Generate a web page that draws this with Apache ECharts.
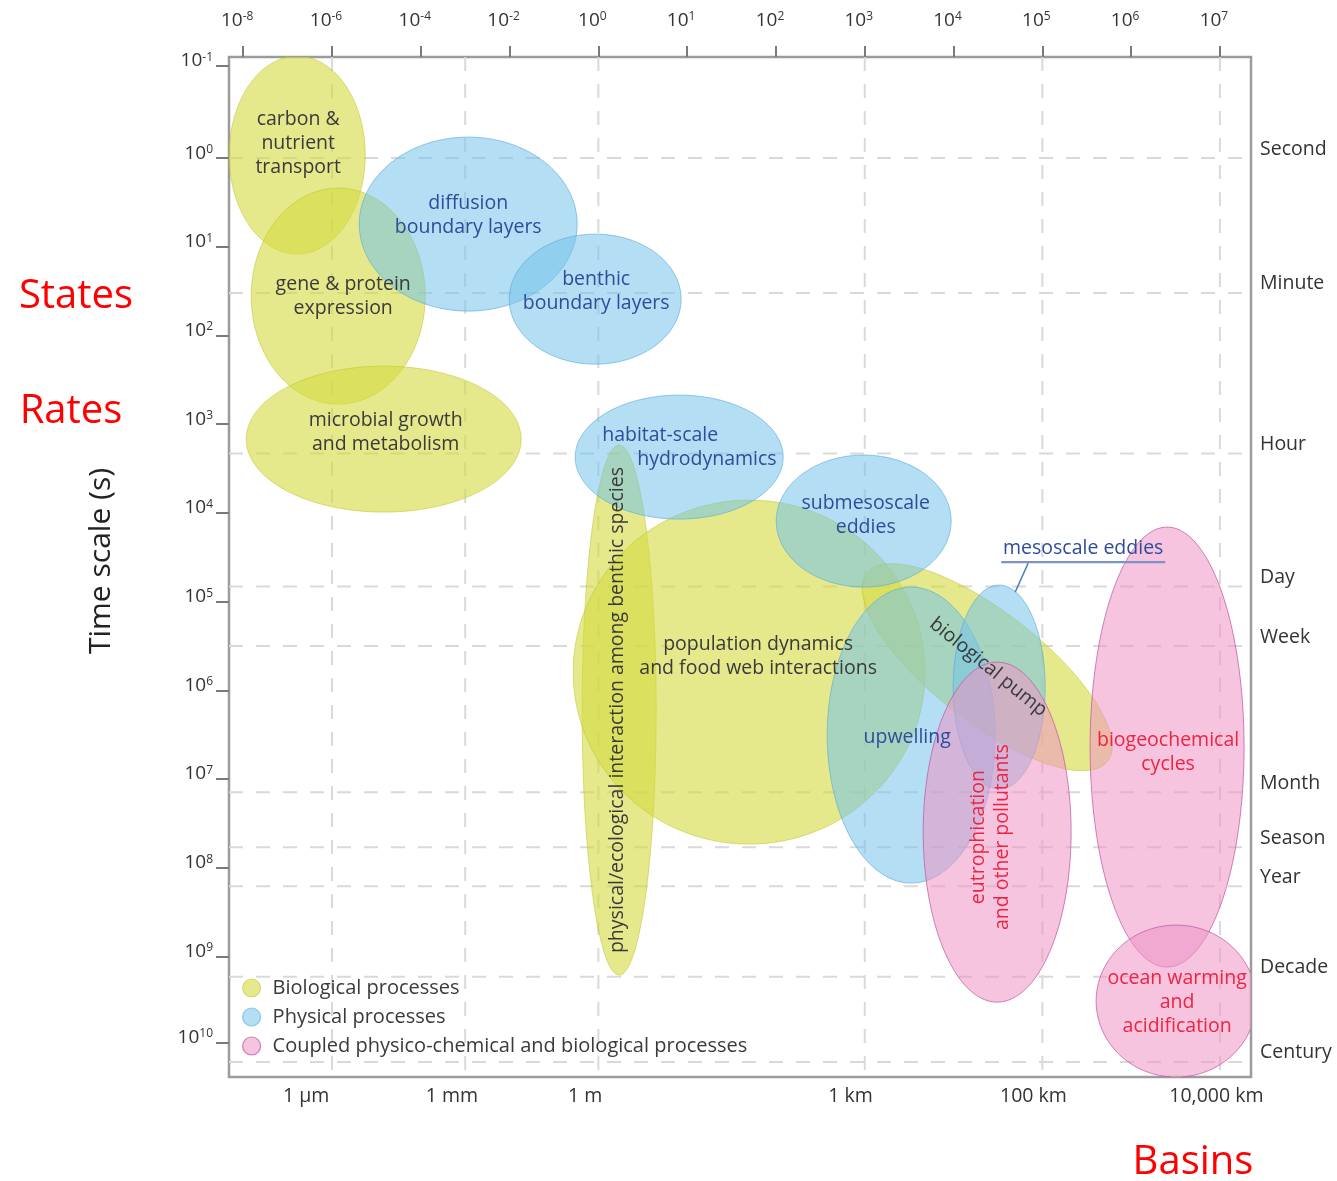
<!DOCTYPE html>
<html>
<head>
<meta charset="utf-8">
<script src="https://cdn.jsdelivr.net/npm/echarts@6/dist/echarts.min.js"></script>
<style>
  html, body { margin: 0; padding: 0; background: #ffffff; }
  #chart { width: 1337px; height: 1181px; }
</style>
</head>
<body>
<div id="chart"></div>
<script>
// ---- Length axis (metres, decade positions along the top) ----
const lengthTickPos = [0, 1, 2, 3, 4, 5, 6, 7, 8, 9, 10, 11];
const lengthTickExp = ['-8', '-6', '-4', '-2', '0', '1', '2', '3', '4', '5', '6', '7'];
const lengthUnitLabels = ['1 µm', '1 mm', '1 m', '1 km', '100 km', '10,000 km'];
const lengthUnitPos = [0.71, 2.35, 3.85, 6.84, 8.9, 10.96];
const lengthGridPos = [1, 2.5, 4, 7, 9, 11];

// ---- Time axis (log10 of seconds) ----
const timeTickPos = [-1.04, 0, 1, 2, 3, 4, 5, 6, 7, 8, 9, 9.97];
const timeTickExp = ['-1', '0', '1', '2', '3', '4', '5', '6', '7', '8', '9', '10'];
const timeUnitLabels = ['Second', 'Minute', 'Hour', 'Day', 'Week', 'Month', 'Season', 'Year', 'Decade', 'Century'];
const timeUnitPos = [0, 1.52, 3.33, 4.83, 5.5, 7.15, 7.77, 8.21, 9.23, 10.19];

// ---- Process groups ----
const groupNames = [
  'Biological processes',
  'Physical processes',
  'Coupled physico-chemical and biological processes'
];

// ---- Processes: centre and half-extent on each axis, tilt in degrees ----
const processNames = [
  'carbon &\nnutrient\ntransport',
  'gene & protein\nexpression',
  'microbial growth\nand metabolism',
  'physical/ecological interaction among benthic species',
  'population dynamics\nand food web interactions',
  'biological pump',
  'diffusion\nboundary layers',
  'benthic\nboundary layers',
  'habitat-scale hydrodynamics',
  'submesoscale\neddies',
  'upwelling',
  'mesoscale eddies',
  'eutrophication\nand other pollutants',
  'biogeochemical\ncycles',
  'ocean warming\nand\nacidification'
];
const processGroup = [0, 0, 0, 0, 0, 0, 1, 1, 1, 1, 1, 1, 2, 2, 2];
const lengthCentre = [0.608, 1.070, 1.582, 4.234, 5.698, 8.380, 2.534, 3.964, 4.910, 6.988, 7.523, 8.514, 8.491, 10.405, 10.507];
const lengthHalf   = [0.766, 0.980, 1.548, 0.417, 1.982, 1.720, 1.227, 0.968, 1.171, 0.985, 0.946, 0.518, 0.833, 0.867, 0.901];
const timeCentre   = [-0.034, 1.556, 3.168, 6.223, 5.795, 5.740, 0.744, 1.590, 3.371, 4.092, 6.505, 5.964, 7.599, 6.640, 9.504];
const timeHalf     = [1.116, 1.218, 0.823, 2.988, 1.939, 0.620, 0.981, 0.733, 0.699, 0.744, 1.669, 1.150, 1.917, 2.480, 0.857];
const processTilt  = [0, 0, 0, 0, 0, 38, 0, 0, 0, 0, 0, 0, 0, 0, 0];

// ---- Styling ----
const FONT = '"Open Sans", "DejaVu Sans", sans-serif';
const LABEL_SIZE = 19.5;
const groupFill   = ['rgba(212,218,63,0.6)', 'rgba(117,195,233,0.55)', 'rgba(239,148,197,0.55)'];
const groupStroke = ['rgba(190,198,40,0.55)', 'rgba(85,168,218,0.6)', 'rgba(190,90,165,0.75)'];
const groupText   = ['#3a3a3a', '#2f4c9c', '#ec2442'];

// label placement relative to each ellipse centre (pixels), rotation in degrees
const labelLayout = {
  0: { dx: 1, dy: -12 },
  1: { dx: 5, dy: 0 },
  2: { dx: 2, dy: -7 },
  3: { dx: -2, dy: 0, rot: 90 },
  4: { dx: 9, dy: -16 },
  5: { dx: 1, dy: 0, rot: -39 },
  6: { dx: 0, dy: -9 },
  7: { dx: 1, dy: -8 },
  8: { dx: -77, dy: -10, stagger: 35 },
  9: { dx: 2, dy: -6 },
  10: { dx: -4, dy: 2 },
  11: { dx: 84, dy: -139, callout: true },
  12: { dx: -7, dy: 5, rot: 90 },
  13: { dx: 1, dy: 5 },
  14: { dx: 1, dy: 1 }
};

// Sutherland-Hodgman clipping of a polygon against the plot rectangle
function clipPolygon(pts, r) {
  const tests = [
    [p => p[0] >= r.x0, (a, b) => lerpAt(a, b, 0, r.x0)],
    [p => p[0] <= r.x1, (a, b) => lerpAt(a, b, 0, r.x1)],
    [p => p[1] >= r.y0, (a, b) => lerpAt(a, b, 1, r.y0)],
    [p => p[1] <= r.y1, (a, b) => lerpAt(a, b, 1, r.y1)]
  ];
  let out = pts;
  tests.forEach(([inside, cut]) => {
    const src = out; out = [];
    for (let k = 0; k < src.length; k++) {
      const cur = src[k], prev = src[(k + src.length - 1) % src.length];
      if (inside(cur)) {
        if (!inside(prev)) out.push(cut(prev, cur));
        out.push(cur);
      } else if (inside(prev)) {
        out.push(cut(prev, cur));
      }
    }
  });
  return out;
}
function lerpAt(a, b, axis, v) {
  const t = (v - a[axis]) / (b[axis] - a[axis]);
  return [a[0] + (b[0] - a[0]) * t, a[1] + (b[1] - a[1]) * t];
}

function ellipseItem(params, api) {
  const cs = params.coordSys;
  const rect = { x0: cs.x, y0: cs.y, x1: cs.x + cs.width, y1: cs.y + cs.height };
  const c = api.coord([api.value(0), api.value(1)]);
  const rx = Math.abs(api.size([api.value(2), 0])[0]);
  const ry = Math.abs(api.size([0, api.value(3)])[1]);
  const t = api.value(4) * Math.PI / 180;
  const g = api.value(5);
  const pts = [];
  const n = 180;
  for (let k = 0; k < n; k++) {
    const a = k / n * 2 * Math.PI;
    const ex = rx * Math.cos(a), ey = ry * Math.sin(a);
    pts.push([c[0] + ex * Math.cos(t) - ey * Math.sin(t), c[1] + ex * Math.sin(t) + ey * Math.cos(t)]);
  }
  const inRect = p => p[0] >= rect.x0 && p[0] <= rect.x1 && p[1] >= rect.y0 && p[1] <= rect.y1;
  const children = [{
    type: 'polygon',
    shape: { points: clipPolygon(pts, rect) },
    style: { fill: groupFill[g] }
  }];
  // outline: only the runs that lie inside the plot
  const start = pts.findIndex(p => !inRect(p));
  const edgeStyle = { fill: 'none', stroke: groupStroke[g], lineWidth: 1 };
  if (start < 0) {
    children.push({ type: 'polygon', shape: { points: pts }, style: edgeStyle });
  } else {
    let run = [];
    for (let k = 1; k <= n; k++) {
      const p = pts[(start + k) % n];
      if (inRect(p)) run.push(p);
      else if (run.length) {
        children.push({ type: 'polyline', shape: { points: run }, style: edgeStyle });
        run = [];
      }
    }
    if (run.length > 1) {
      children.push({ type: 'polyline', shape: { points: run }, style: edgeStyle });
    }
  }
  return { type: 'group', children: children };
}

function labelItem(params, api) {
  const i = api.value(0);
  const c = api.coord([lengthCentre[i], timeCentre[i]]);
  const L = labelLayout[i];
  const g = processGroup[i];
  const x = c[0] + L.dx, y = c[1] + L.dy;
  const font = LABEL_SIZE + 'px ' + FONT;
  const children = [];
  if (L.stagger) {
    const parts = processNames[i].split(' ');
    children.push({
      type: 'text', x: x, y: y,
      style: {
        text: '{a|' + parts[0] + '}\n{b|' + parts[1] + '}',
        rich: { a: { font: font, fill: groupText[g] }, b: { font: font, fill: groupText[g], padding: [0, 0, 0, L.stagger] } },
        fill: groupText[g], font: font, lineHeight: 24,
        align: 'left', verticalAlign: 'middle'
      }
    });
  } else {
    children.push({
      type: 'text', x: x, y: y,
      rotation: (L.rot || 0) * Math.PI / 180,
      style: {
        text: processNames[i], fill: groupText[g], font: font,
        lineHeight: 24, align: 'center', verticalAlign: 'middle'
      }
    });
  }
  if (L.callout) {
    children.push({
      type: 'line',
      shape: { x1: c[0] + 2, y1: c[1] - 125, x2: c[0] + 166, y2: c[1] - 125 },
      style: { stroke: '#7b93c8', lineWidth: 2.2 }
    });
    children.push({
      type: 'line',
      shape: { x1: c[0] + 16, y1: c[1] - 95, x2: c[0] + 29, y2: c[1] - 124 },
      style: { stroke: '#4f7fc0', lineWidth: 1.5 }
    });
  }
  return { type: 'group', children: children };
}

function gridLineItem(params, api) {
  const kind = api.value(0), v = api.value(1);
  let p1, p2;
  if (kind === 0) {
    p1 = api.coord([v, -1.14]); p2 = api.coord([v, 10.36]);
  } else {
    p1 = api.coord([-0.16, v]); p2 = api.coord([11.35, v]);
  }
  return {
    type: 'line',
    shape: { x1: p1[0], y1: p1[1], x2: p2[0], y2: p2[1] },
    style: { stroke: '#d9d9d9', lineWidth: 2, lineDash: [14, 13] }
  };
}

const gridLineData = lengthGridPos.map(v => [0, v]).concat(timeUnitPos.map(v => [1, v]));

const seriesList = [{
  type: 'custom', name: 'grid', silent: true, z: 1,
  xAxisIndex: 0, yAxisIndex: 0,
  renderItem: gridLineItem, data: gridLineData
}];

groupNames.forEach((gname, g) => {
  const data = [];
  processNames.forEach((p, i) => {
    if (processGroup[i] === g) {
      data.push([lengthCentre[i], timeCentre[i], lengthHalf[i], timeHalf[i], processTilt[i], g]);
    }
  });
  seriesList.push({
    type: 'custom', name: gname, z: 2, silent: true,
    xAxisIndex: 0, yAxisIndex: 0,
    itemStyle: { color: groupFill[g], borderColor: groupStroke[g], borderWidth: 1 },
    renderItem: ellipseItem, data: data
  });
});

seriesList.push({
  type: 'custom', name: 'labels', z: 5, silent: true,
  xAxisIndex: 0, yAxisIndex: 0,
  renderItem: labelItem,
  data: processNames.map((p, i) => [i])
});

const supRich = {
  b: { fontSize: 19, fontFamily: FONT, color: '#333' },
  s: { fontSize: 12, fontFamily: FONT, color: '#333', verticalAlign: 'top' }
};

const chart = echarts.init(document.getElementById('chart'));
chart.setOption({
  animation: false,
  backgroundColor: '#ffffff',
  grid: {
    left: 229, right: 86, top: 57, bottom: 104,
    show: true, borderColor: '#9b9b9b', borderWidth: 2.5, backgroundColor: 'transparent'
  },
  xAxis: [{
    type: 'value', position: 'top', min: -0.16, max: 11.35,
    axisLine: { show: false, onZero: false }, splitLine: { show: false },
    axisTick: { show: true, length: 11, customValues: lengthTickPos, lineStyle: { color: '#7a7a7a', width: 2 } },
    axisLabel: {
      customValues: lengthTickPos, margin: 27, padding: [0, 12, 0, 0],
      formatter: v => '{b|10}{s|' + lengthTickExp[lengthTickPos.indexOf(v)] + '}',
      rich: supRich
    }
  }, {
    type: 'value', position: 'bottom', min: -0.16, max: 11.35,
    axisLine: { show: false, onZero: false }, splitLine: { show: false }, axisTick: { show: false },
    axisLabel: {
      customValues: lengthUnitPos, margin: 7,
      formatter: v => lengthUnitLabels[lengthUnitPos.indexOf(v)],
      fontFamily: FONT, fontSize: LABEL_SIZE, color: '#333', lineHeight: 24
    }
  }],
  yAxis: [{
    type: 'value', position: 'left', inverse: true, min: -1.14, max: 10.36,
    name: 'Time scale (s)', nameLocation: 'middle', nameGap: 113, nameRotate: 90,
    nameTextStyle: { fontFamily: FONT, fontSize: 30, color: '#222', padding: [0, 0, 0, 12] },
    axisLine: { show: false, onZero: false }, splitLine: { show: false },
    axisTick: { show: true, length: 13, customValues: timeTickPos, lineStyle: { color: '#7a7a7a', width: 2 } },
    axisLabel: {
      customValues: timeTickPos, margin: 16, verticalAlign: 'middle', padding: [0, 0, 10, 0],
      formatter: v => '{b|10}{s|' + timeTickExp[timeTickPos.indexOf(v)] + '}',
      rich: supRich
    }
  }, {
    type: 'value', position: 'right', inverse: true, min: -1.14, max: 10.36,
    axisLine: { show: false, onZero: false }, splitLine: { show: false }, axisTick: { show: false },
    axisLabel: {
      customValues: timeUnitPos, margin: 9, verticalAlign: 'bottom',
      formatter: v => timeUnitLabels[timeUnitPos.indexOf(v)],
      fontFamily: FONT, fontSize: LABEL_SIZE, color: '#333', lineHeight: 18
    }
  }],
  legend: {
    orient: 'vertical', left: 242, top: 978, padding: 0,
    itemWidth: 20, itemHeight: 18, itemGap: 9, icon: 'circle',
    selectedMode: false,
    textStyle: { fontFamily: FONT, fontSize: 20, color: '#3a3a3a', padding: [0, 0, 0, 6] },
    data: groupNames.map((n, g) => ({
      name: n, itemStyle: { color: groupFill[g], borderColor: groupStroke[g], borderWidth: 1.2 }
    }))
  },
  graphic: [
    { type: 'text', x: 76, y: 297, style: { text: 'States', fill: '#ff0000', font: '40px "Open Sans", sans-serif', align: 'center', verticalAlign: 'middle' } },
    { type: 'text', x: 71, y: 412, style: { text: 'Rates', fill: '#ff0000', font: '40px "Open Sans", sans-serif', align: 'center', verticalAlign: 'middle' } },
    { type: 'text', x: 1193, y: 1163, style: { text: 'Basins', fill: '#ff0000', font: '40px "Open Sans", sans-serif', align: 'center', verticalAlign: 'middle' } }
  ],
  series: seriesList
});
</script>
</body>
</html>
